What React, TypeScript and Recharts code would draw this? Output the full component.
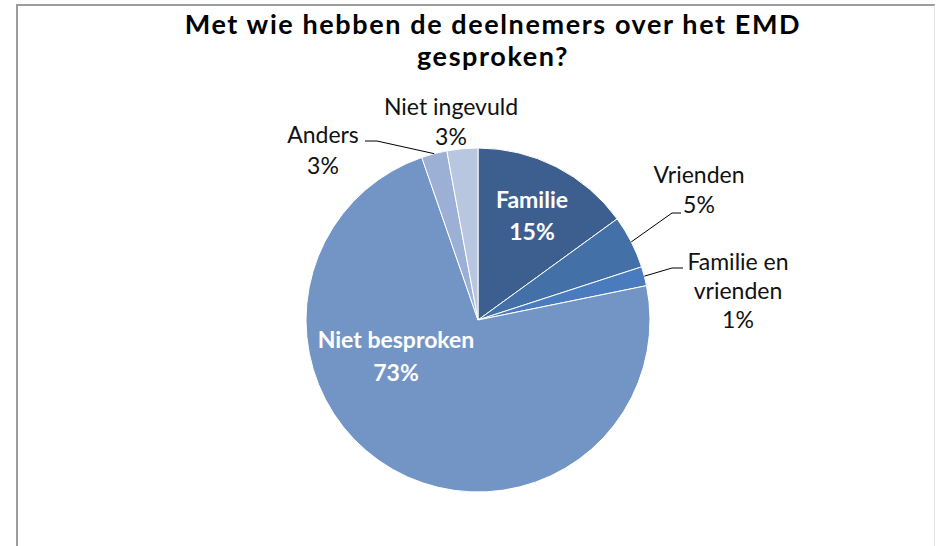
import { PieChart, Pie, Cell } from "recharts";

// slices clockwise from 12 o'clock
const categories = [
  "Familie",
  "Vrienden",
  "Familie en\nvrienden",
  "Niet besproken",
  "Anders",
  "Niet ingevuld",
];
// shares as measured from the slice angles
const shares = [15, 5, 1.8, 72.9, 2.4, 2.9];
// percentages as printed on the chart
const shownPercents = ["15%", "5%", "1%", "73%", "3%", "3%"];
const sliceColors = ["#3d5f8f", "#4470a8", "#4a7bbe", "#7395c6", "#9bb0d4", "#b9c6df"];

const data = categories.map((name, i) => ({
  name,
  value: shares[i],
  pct: shownPercents[i],
}));

const FONT = "Lato, 'Open Sans', sans-serif";
const RAD = Math.PI / 180;

// where each label sits, relative to the pie centre
const placement: Record<
  number,
  { x: number; y: number; lh: number; inside?: boolean; elbow?: [number, number]; end?: [number, number] }
> = {
  0: { x: 54, y: -112, lh: 32, inside: true },
  1: { x: 221, y: -137, lh: 30, elbow: [194, -107], end: [203, -107] },
  2: { x: 260, y: -50, lh: 29, elbow: [194, -52], end: [205, -52] },
  3: { x: -82, y: 28, lh: 33, inside: true },
  4: { x: -155, y: -177, lh: 31, elbow: [-101, -179], end: [-113, -179] },
  5: { x: -27, y: -205, lh: 30 },
};

function renderLabel(props: any) {
  const { cx, cy, midAngle, outerRadius, index } = props;
  const p = placement[index];
  const lines = [...categories[index].split("\n"), shownPercents[index]];
  const tx = cx + p.x;
  let leader = null;
  if (p.elbow && p.end) {
    const sx = cx + outerRadius * Math.cos(-midAngle * RAD);
    const sy = cy + outerRadius * Math.sin(-midAngle * RAD);
    leader = (
      <polyline
        points={`${sx},${sy} ${cx + p.elbow[0]},${cy + p.elbow[1]} ${cx + p.end[0]},${cy + p.end[1]}`}
        fill="none"
        stroke="#000"
        strokeWidth={1}
      />
    );
  }
  return (
    <g key={`lbl-${index}`}>
      {leader}
      {lines.map((t, j) => (
        <text
          key={j}
          x={tx}
          y={cy + p.y + j * p.lh}
          textAnchor="middle"
          fontFamily={FONT}
          fontSize={23}
          fontWeight={p.inside ? 700 : 400}
          fill={p.inside ? "#ffffff" : "#111111"}
        >
          {t}
        </text>
      ))}
    </g>
  );
}

export default function App() {
  return (
    <div
      style={{
        position: "fixed",
        left: 0,
        top: 0,
        width: 937,
        height: 546,
        background: "#fff",
        overflow: "hidden",
      }}
    >
      <div
        style={{
          position: "absolute",
          left: 16,
          top: 4,
          width: 916,
          height: 560,
          borderLeft: "2px solid #9c9c9c",
          borderTop: "2px solid #9c9c9c",
          borderRight: "1px solid #e2e2e2",
        }}
      />
      <div
        style={{
          position: "absolute",
          left: 118,
          top: 8,
          width: 750,
          textAlign: "center",
          fontFamily: FONT,
          fontWeight: 700,
          fontSize: 27,
          letterSpacing: 1.6,
          lineHeight: "32px",
          color: "#000",
        }}
      >
        Met wie hebben de deelnemers over het EMD
        <br />
        gesproken?
      </div>
      <PieChart
        width={937}
        height={546}
        margin={{ top: 0, right: 0, bottom: 0, left: 0 }}
        style={{ position: "absolute", left: 0, top: 0 }}
      >
        <Pie
          data={data}
          dataKey="value"
          nameKey="name"
          cx={478}
          cy={320}
          outerRadius={172}
          startAngle={90}
          endAngle={-270}
          stroke="#ffffff"
          strokeWidth={1}
          label={renderLabel}
          labelLine={false}
          isAnimationActive={false}
        >
          {data.map((_, i) => (
            <Cell key={i} fill={sliceColors[i]} />
          ))}
        </Pie>
      </PieChart>
    </div>
  );
}
